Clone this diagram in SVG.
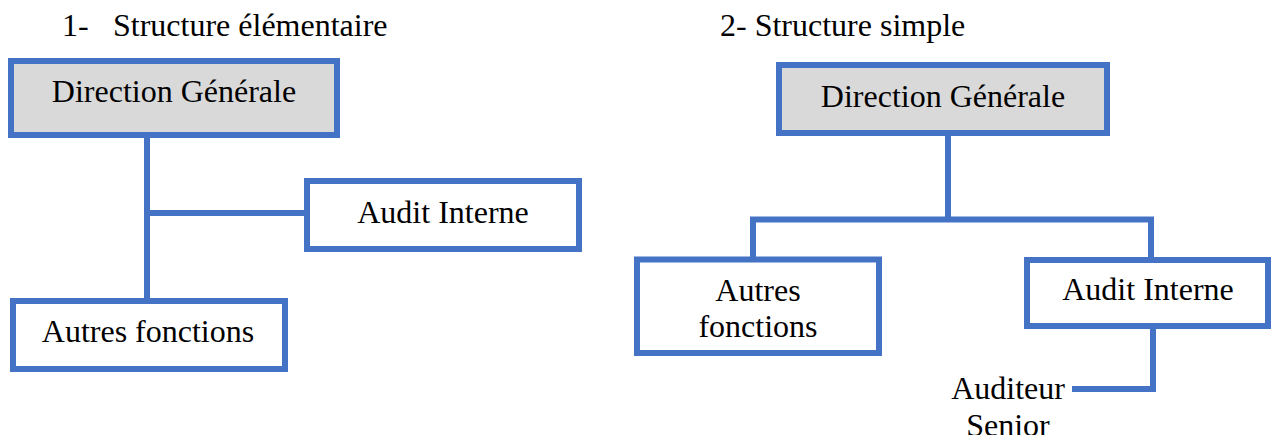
<svg xmlns="http://www.w3.org/2000/svg" width="1271" height="435" viewBox="0 0 1271 435">
<style>
.box{fill:#fff;stroke:#4472c4;stroke-width:6}
.head{fill:#d9d9d9;stroke:#4472c4;stroke-width:6}
.conn{fill:none;stroke:#4472c4;stroke-width:6}
text{font-family:"Liberation Serif","Times New Roman",serif;font-size:32px;fill:#000}
.c{text-anchor:middle}
</style>
<rect width="1271" height="435" fill="#fff"/>
<g id="titles">
<text x="62" y="36">1-</text>
<text x="113" y="36">Structure élémentaire</text>
<text x="720" y="36">2- Structure simple</text>
</g>
<g id="connectors">
<path class="conn" d="M147 138V298M147 213H304"/>
<path class="conn" d="M948 136V219.5M753 257V219.5H1151V257"/>
<path class="conn" d="M1153 329V389H1072"/>
</g>
<g id="dg1"><rect class="head" x="11" y="61" width="326" height="74"/><text class="c" x="174" y="102">Direction Générale</text></g>
<g id="audit1"><rect class="box" x="307" y="181" width="272" height="68"/><text class="c" x="443" y="223">Audit Interne</text></g>
<g id="autres1"><rect class="box" x="13" y="301" width="272" height="68"/><text class="c" x="148" y="342">Autres fonctions</text></g>
<g id="dg2"><rect class="head" x="779" y="65" width="328" height="68"/><text class="c" x="943" y="107">Direction Générale</text></g>
<g id="autres2"><rect class="box" x="637" y="259.5" width="242" height="93.5"/><text class="c" x="758" y="301">Autres</text><text class="c" x="758" y="337">fonctions</text></g>
<g id="audit2"><rect class="box" x="1027" y="260" width="241" height="66"/><text class="c" x="1148" y="300">Audit Interne</text></g>
<g id="auditeur"><text class="c" x="1008" y="399">Auditeur</text><text class="c" x="1008" y="436">Senior</text></g>
</svg>
